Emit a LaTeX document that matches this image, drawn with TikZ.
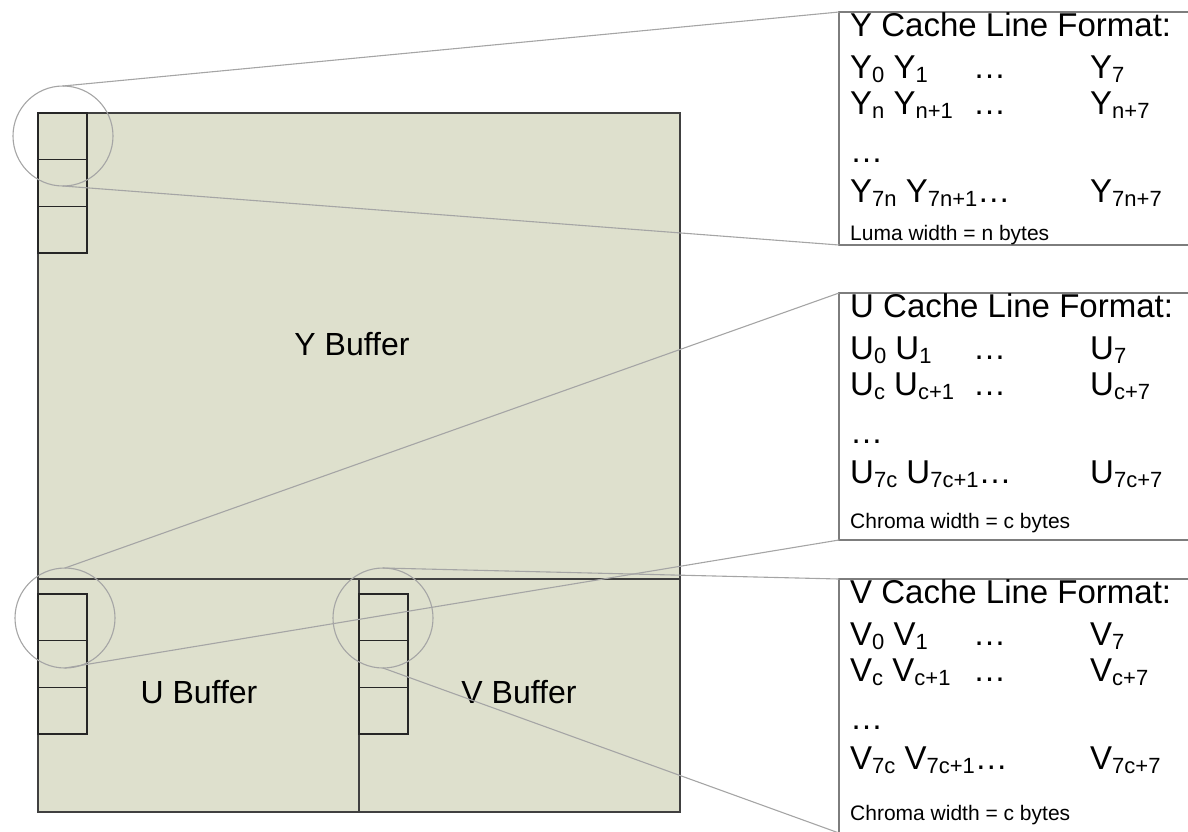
\documentclass[tikz,border=0pt]{standalone}
\usepackage{fontspec}
\setmainfont{Liberation Sans}
\usetikzlibrary{positioning}
\definecolor{bufferfill}{RGB}{222,224,205}
\definecolor{ringgray}{RGB}{165,165,165}
\definecolor{boxgray}{RGB}{125,125,125}
\newcommand{\cachesub}[1]{\raisebox{-4.5pt}{\fontsize{22}{22}\selectfont #1}}

\begin{document}
\begin{tikzpicture}[
  x=1pt, y=-1pt,
  buffer/.style={draw=black!75, line width=1.5pt, fill=bufferfill, inner sep=0pt, outer sep=0pt},
  cell/.style={draw=black!85, line width=1.5pt, minimum width=49pt, minimum height=46.7pt, inner sep=0pt, outer sep=0pt},
  ring/.style={draw=ringgray, line width=1.1pt, circle, minimum size=100pt, inner sep=0pt, outer sep=0pt},
  zoomline/.style={draw=ringgray, line width=1.1pt},
  fmtbox/.style={draw=boxgray, line width=1.5pt, fill=white, minimum width=360pt, inner sep=0pt, outer sep=0pt, anchor=north west},
  fmttext/.style={anchor=base west, inner sep=0pt, font=\fontsize{33}{33}\selectfont},
  smalltext/.style={anchor=base west, inner sep=0pt, font=\fontsize{21}{21}\selectfont},
  buflabel/.style={anchor=base, inner sep=0pt, font=\fontsize{32}{32}\selectfont}
]
\useasboundingbox (0,0) rectangle (1188,831);

% buffers
\node[buffer, minimum width=642pt, minimum height=466pt, anchor=north west] (ybuf) at (38,113) {};
\node[buffer, minimum width=321pt, minimum height=233pt, anchor=north west] (ubuf) at (38,579) {};
\node[buffer, minimum width=321pt, minimum height=233pt, anchor=north west] (vbuf) at (359,579) {};

\node[buflabel] (ylab) at (352,355) {Y Buffer};
\node[buflabel] (ulab) at (199,703) {U Buffer};
\node[buflabel] (vlab) at (519,703) {V Buffer};

% cache lines
\node[cell, anchor=north west] (yc1) at (38,113) {};
\node[cell, below=0pt of yc1] (yc2) {};
\node[cell, below=0pt of yc2] (yc3) {};
\node[cell, anchor=north west] (uc1) at (38,594) {};
\node[cell, below=0pt of uc1] (uc2) {};
\node[cell, below=0pt of uc2] (uc3) {};
\node[cell, anchor=north west] (vc1) at (359,594) {};
\node[cell, below=0pt of vc1] (vc2) {};
\node[cell, below=0pt of vc2] (vc3) {};

% zoom rings
\node[ring] (yring) at (63,136) {};
\node[ring] (uring) at (65,618) {};
\node[ring] (vring) at (383,618) {};

% format boxes
\node[fmtbox, minimum height=233pt] (ybox) at (839,12) {};
\node[fmtbox, minimum height=247pt] (ubox) at (839,293) {};
\node[fmtbox, minimum height=254pt] (vbox) at (839,579) {};

\draw[zoomline] (yring.north) -- (ybox.north west);
\draw[zoomline] (yring.south) -- (ybox.south west);
\draw[zoomline] (uring.north) -- (ubox.north west);
\draw[zoomline] (uring.south) -- (ubox.south west);
\draw[zoomline] (vring.north) -- (vbox.north west);
\draw[zoomline] (vring.south) -- (vbox.south west);

\foreach \bx/\ltr/\idx/\kind/\sy in {ybox/Y/n/Luma/228, ubox/U/c/Chroma/235, vbox/V/c/Chroma/241} {
  \node[fmttext] (\bx-head) at ([shift={(11,24)}]\bx.north west) {\ltr\ Cache Line Format:};
  \node[fmttext] (\bx-r1a) at ([shift={(11,66)}]\bx.north west) {\ltr\cachesub{0} \ltr\cachesub{1}};
  \node[fmttext] (\bx-r1b) at ([shift={(134,66)}]\bx.north west) {…};
  \node[fmttext] (\bx-r1c) at ([shift={(251,66)}]\bx.north west) {\ltr\cachesub{7}};
  \node[fmttext] (\bx-r2a) at ([shift={(11,102)}]\bx.north west) {\ltr\cachesub{\idx} \ltr\cachesub{\idx+1}};
  \node[fmttext] (\bx-r2b) at ([shift={(134,102)}]\bx.north west) {…};
  \node[fmttext] (\bx-r2c) at ([shift={(251,102)}]\bx.north west) {\ltr\cachesub{\idx+7}};
  \node[fmttext] (\bx-r3) at ([shift={(11,150)}]\bx.north west) {…};
  \node[fmttext] (\bx-r4a) at ([shift={(11,190)}]\bx.north west) {\ltr\cachesub{7\idx} \ltr\cachesub{7\idx+1}…};
  \node[fmttext] (\bx-r4c) at ([shift={(251,190)}]\bx.north west) {\ltr\cachesub{7\idx+7}};
  \node[smalltext] (\bx-note) at ([shift={(11,\sy)}]\bx.north west) {\kind\ width = \idx\ bytes};
}
\end{tikzpicture}
\end{document}
